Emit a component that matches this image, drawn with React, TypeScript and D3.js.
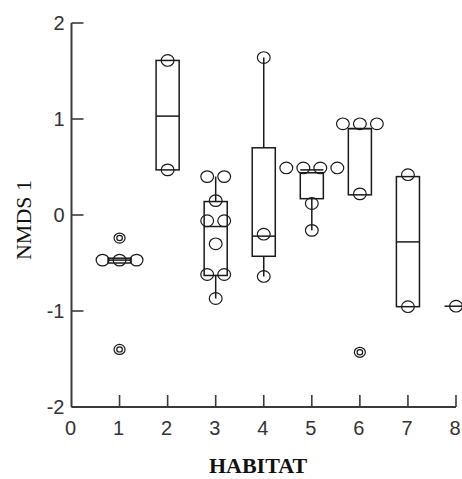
import React from 'react';
import * as d3 from 'd3';

// box stats (NMDS 1 scores per habitat)
const habitats = [1, 2, 3, 4, 5, 6, 7, 8];
const q1 = [-0.50, 0.47, -0.63, -0.43, 0.17, 0.21, -0.955, -0.95];
const medians = [-0.47, 1.03, -0.12, -0.22, 0.47, 0.9, -0.28, -0.95];
const q3 = [-0.45, 1.61, 0.14, 0.70, 0.44, 0.9, 0.40, -0.95];
const whiskerLow = [-0.50, 0.47, -0.87, -0.64, -0.16, 0.21, -0.955, -0.95];
const whiskerHigh = [-0.45, 1.61, 0.40, 1.64, 0.44, 0.9, 0.40, -0.95];

const points = [
  [-0.47, -0.47, -0.47],
  [1.61, 0.47],
  [0.40, 0.40, 0.15, -0.06, -0.06, -0.30, -0.62, -0.62, -0.87],
  [1.64, -0.20, -0.64],
  [0.49, 0.49, 0.49, 0.49, 0.12, -0.16],
  [0.95, 0.95, 0.95, 0.22],
  [0.42, -0.955],
  [-0.95],
];
const outliers = [[-0.24, -1.40], [], [], [], [], [-1.43], [], []];

const yTicks = [-2, -1, 0, 1, 2];
const xTicks = [0, 1, 2, 3, 4, 5, 6, 7, 8];

const W = 462;
const H = 479;

export default function App() {
  const x = d3.scaleLinear().domain([0, 8]).range([71.5, 456]);
  const y = d3.scaleLinear().domain([-2, 2]).range([407, 23]);
  const half = (x(1) - x(0)) * 0.24;
  const step = 17;
  const ink = '#1a1a1a';
  const axisCol = '#3a3a3a';

  // spread points that share a value side by side
  const jittered = points.map((vals) => {
    const groups = d3.group(vals, (v) => v);
    const out: { v: number; dx: number }[] = [];
    groups.forEach((arr, v) => {
      arr.forEach((_, i) => out.push({ v, dx: (i - (arr.length - 1) / 2) * step }));
    });
    return out;
  });

  return (
    <svg width={W} height={H} style={{ position: 'absolute', left: 0, top: 0, background: '#fff' }}>
      {/* axes */}
      <line x1={x(0)} x2={x(0)} y1={y(2)} y2={y(-2)} stroke={axisCol} strokeWidth={2} />
      <line x1={x(0)} x2={x(8)} y1={y(-2)} y2={y(-2)} stroke={axisCol} strokeWidth={2} />
      {yTicks.map((t) => (
        <g key={'y' + t}>
          <line x1={x(0)} x2={x(0) + 12} y1={y(t)} y2={y(t)} stroke={axisCol} strokeWidth={1.6} />
          <text x={x(0) - 7} y={y(t) + 7} textAnchor="end" fontFamily="Liberation Sans, Arial, sans-serif"
            fontSize={20} fill="#333">{t}</text>
        </g>
      ))}
      {xTicks.map((t) => (
        <g key={'x' + t}>
          {t > 0 && <line x1={x(t)} x2={x(t)} y1={y(-2)} y2={y(-2) - 12} stroke={axisCol} strokeWidth={1.6} />}
          <text x={x(t) - 1} y={y(-2) + 28} textAnchor="middle" fontFamily="Liberation Sans, Arial, sans-serif"
            fontSize={20} fill="#333">{t}</text>
        </g>
      ))}
      <text transform={`translate(31,220) rotate(-90)`} textAnchor="middle"
        fontFamily="Liberation Serif, Times New Roman, serif" fontSize={22} fill="#111">NMDS 1</text>
      <text x={258} y={473} textAnchor="middle" fontFamily="Liberation Serif, Times New Roman, serif"
        fontSize={22} fontWeight="bold" fill="#111">HABITAT</text>

      {/* boxes */}
      {habitats.map((h, i) => {
        const cx = x(h);
        return (
          <g key={'b' + h} stroke={ink} strokeWidth={1.5} fill="none">
            <line x1={cx} x2={cx} y1={y(q3[i])} y2={y(whiskerHigh[i])} />
            <line x1={cx} x2={cx} y1={y(q1[i])} y2={y(whiskerLow[i])} />
            <rect x={cx - half} y={y(q3[i])} width={half * 2} height={Math.max(0, y(q1[i]) - y(q3[i]))} />
            <line x1={cx - half} x2={cx + half} y1={y(medians[i])} y2={y(medians[i])} />
          </g>
        );
      })}

      {/* data points */}
      {habitats.map((h, i) => (
        <g key={'p' + h} stroke={ink} strokeWidth={1.2} fill="none">
          {jittered[i].map((p, j) => (
            <ellipse key={j} cx={x(h) + p.dx} cy={y(p.v)} rx={6.4} ry={5.8} />
          ))}
          {outliers[i].map((v, j) => (
            <g key={'o' + j}>
              <ellipse cx={x(h)} cy={y(v)} rx={5.5} ry={5} />
              <ellipse cx={x(h)} cy={y(v)} rx={2.8} ry={2.6} />
            </g>
          ))}
        </g>
      ))}
    </svg>
  );
}
